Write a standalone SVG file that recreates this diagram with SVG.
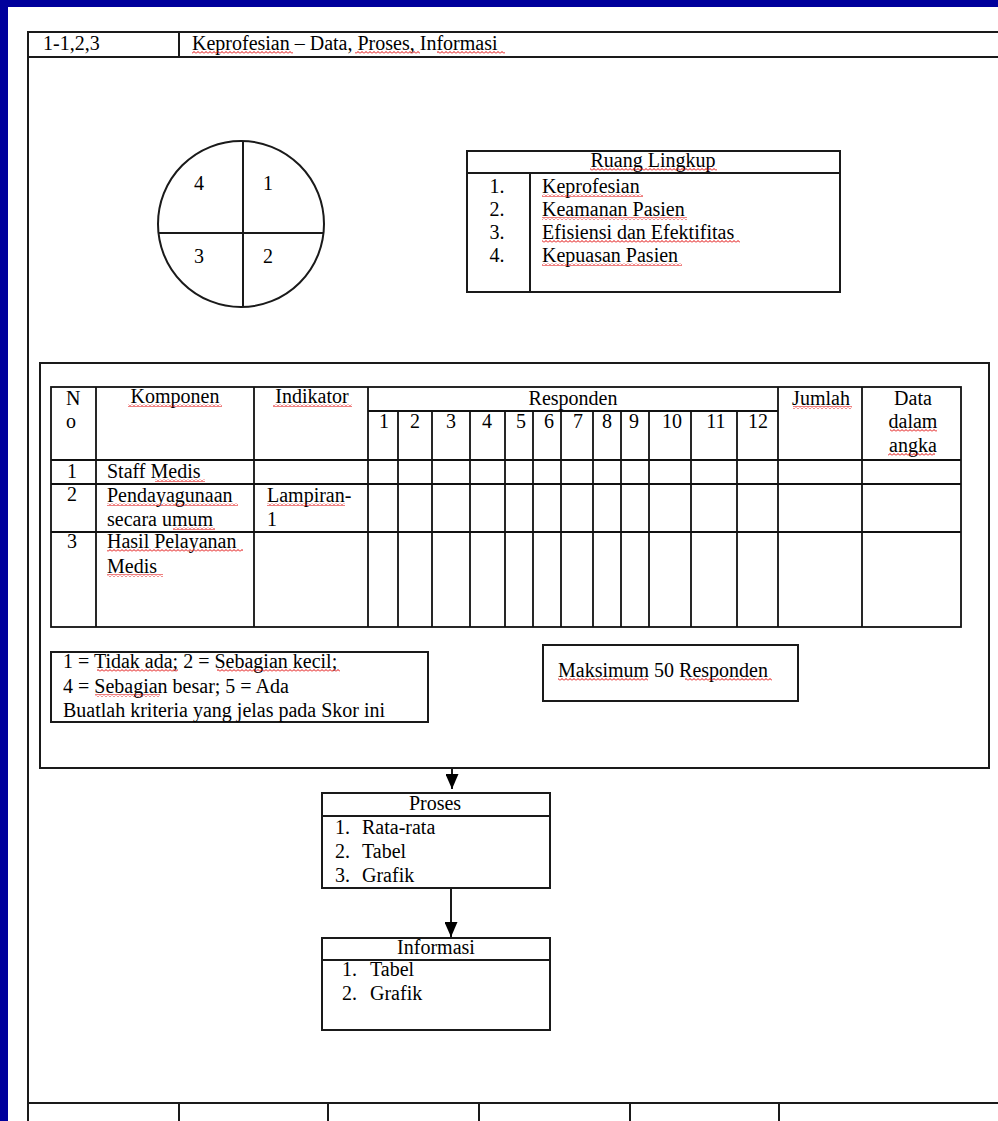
<svg xmlns="http://www.w3.org/2000/svg" width="998" height="1121" viewBox="0 0 998 1121">
<style>
.ln{stroke:#1a1a1a;stroke-width:2;fill:none}
.tl{stroke:#111;stroke-width:1.8;fill:none}
.t{font-family:"Liberation Serif","Times New Roman",serif;font-size:20px;fill:#000}
.m{text-anchor:middle}
.sq{fill:url(#sq)}
</style>
<defs>
<pattern id="sq" width="4" height="3" patternUnits="userSpaceOnUse">
<path d="M0,2.5 L2,0.5 L4,2.5" stroke="#e00000" stroke-width="1" fill="none"/>
</pattern>
<marker id="ah" viewBox="0 0 13 15" refX="6.5" refY="15" markerWidth="13" markerHeight="15" markerUnits="userSpaceOnUse" orient="0">
<path d="M0,0 L13,0 L6.5,15 z" fill="#000"/>
</marker>
</defs>
<rect x="0" y="0" width="998" height="1121" fill="#00009c"/>
<rect x="8" y="7" width="990" height="1114" fill="#fff"/>

<g id="frame">
<line class="ln" x1="28" y1="32" x2="998" y2="32"/>
<line class="ln" x1="28" y1="57" x2="998" y2="57"/>
<line class="ln" x1="28" y1="31" x2="28" y2="1121"/>
<line class="ln" x1="179" y1="32" x2="179" y2="57"/>
<line class="ln" x1="28" y1="1103" x2="998" y2="1103"/>
<line class="ln" x1="179" y1="1103" x2="179" y2="1121"/>
<line class="ln" x1="328" y1="1103" x2="328" y2="1121"/>
<line class="ln" x1="479" y1="1103" x2="479" y2="1121"/>
<line class="ln" x1="630" y1="1103" x2="630" y2="1121"/>
<line class="ln" x1="779" y1="1103" x2="779" y2="1121"/>
<text class="t" x="43" y="50">1-1,2,3</text>
<text class="t" x="192" y="50">Keprofesian – Data, Proses, Informasi</text>
<rect class="sq" x="192" y="51" width="101" height="3"/>
<rect class="sq" x="355" y="51" width="65" height="3"/>
<rect class="sq" x="437" y="51" width="68" height="3"/>
</g>

<g id="circle">
<circle class="ln" cx="241" cy="224" r="83"/>
<line class="ln" x1="243" y1="141" x2="243" y2="307"/>
<line class="ln" x1="158" y1="233" x2="324" y2="233"/>
<text class="t m" x="199" y="190">4</text>
<text class="t m" x="268" y="190">1</text>
<text class="t m" x="199" y="263">3</text>
<text class="t m" x="268" y="263">2</text>
</g>

<g id="ruang-lingkup">
<rect class="ln" x="467" y="151" width="373" height="141"/>
<line class="ln" x1="467" y1="173" x2="840" y2="173"/>
<line class="ln" x1="530" y1="173" x2="530" y2="292"/>
<text class="t m" x="653" y="167">Ruang Lingkup</text>
<rect class="sq" x="590" y="168" width="127" height="3"/>
<text class="t m" x="497" y="193">1.</text>
<text class="t m" x="497" y="216">2.</text>
<text class="t m" x="497" y="239">3.</text>
<text class="t m" x="497" y="262">4.</text>
<text class="t" x="542" y="193">Keprofesian</text>
<text class="t" x="542" y="216">Keamanan Pasien</text>
<text class="t" x="542" y="239">Efisiensi dan Efektifitas</text>
<text class="t" x="542" y="262">Kepuasan Pasien</text>
<rect class="sq" x="542" y="194" width="101" height="3"/>
<rect class="sq" x="542" y="217" width="145" height="3"/>
<rect class="sq" x="542" y="240" width="198" height="3"/>
<rect class="sq" x="542" y="263" width="140" height="3"/>
</g>

<g id="data-panel">
<rect class="ln" x="40" y="363" width="949" height="405"/>
</g>

<g id="table">
<rect class="tl" x="51" y="387" width="910" height="240"/>
<path class="tl" d="M96,387V627 M254,387V627 M368,387V627 M778,387V627 M862,387V627"/>
<path class="tl" d="M398,411V627 M432,411V627 M470,411V627 M505,411V627 M533,411V627 M561,411V627 M593,411V627 M621,411V627 M649,411V627 M691,411V627 M737,411V627"/>
<path class="tl" d="M368,411H778 M51,460H961 M51,484H961 M51,532H961"/>
<text class="t" x="66" y="405">N</text>
<text class="t" x="66" y="428">o</text>
<text class="t m" x="175" y="403">Komponen</text>
<rect class="sq" x="128" y="404" width="94" height="3"/>
<text class="t m" x="312" y="403">Indikator</text>
<rect class="sq" x="273" y="404" width="79" height="3"/>
<text class="t m" x="573" y="405">Responden</text>
<text class="t m" x="384" y="428">1</text>
<text class="t m" x="415" y="428">2</text>
<text class="t m" x="451" y="428">3</text>
<text class="t m" x="487" y="428">4</text>
<text class="t m" x="521" y="428">5</text>
<text class="t m" x="549" y="428">6</text>
<text class="t m" x="578" y="428">7</text>
<text class="t m" x="607" y="428">8</text>
<text class="t m" x="634" y="428">9</text>
<text class="t m" x="672" y="428">10</text>
<text class="t m" x="716" y="428">11</text>
<text class="t m" x="758" y="428">12</text>
<text class="t m" x="821" y="405">Jumlah</text>
<rect class="sq" x="793" y="406" width="59" height="3"/>
<text class="t m" x="913" y="405">Data</text>
<text class="t m" x="913" y="428">dalam</text>
<text class="t m" x="913" y="452">angka</text>
<rect class="sq" x="890" y="429" width="47" height="3"/>
<rect class="sq" x="888" y="453" width="47" height="3"/>
<text class="t m" x="72" y="478">1</text>
<text class="t" x="107" y="478">Staff Medis</text>
<rect class="sq" x="155" y="479" width="50" height="3"/>
<text class="t m" x="72" y="501">2</text>
<text class="t" x="107" y="502">Pendayagunaan</text>
<text class="t" x="107" y="526">secara umum</text>
<rect class="sq" x="107" y="503" width="131" height="3"/>
<rect class="sq" x="173" y="527" width="42" height="3"/>
<text class="t" x="267" y="502">Lampiran-</text>
<text class="t" x="267" y="526">1</text>
<rect class="sq" x="267" y="503" width="78" height="3"/>
<text class="t m" x="72" y="548">3</text>
<text class="t" x="107" y="548">Hasil Pelayanan</text>
<text class="t" x="107" y="573">Medis</text>
<rect class="sq" x="107" y="549" width="136" height="3"/>
<rect class="sq" x="107" y="574" width="56" height="3"/>
</g>

<g id="legend">
<rect class="ln" x="51" y="652" width="377" height="70"/>
<text class="t" x="63" y="668">1 = Tidak ada; 2 = Sebagian kecil;</text>
<text class="t" x="63" y="693">4 = Sebagian besar; 5 = Ada</text>
<text class="t" x="63" y="717">Buatlah kriteria yang jelas pada Skor ini</text>
<rect class="sq" x="97" y="669" width="81" height="3"/>
<rect class="sq" x="217" y="669" width="123" height="3"/>
<rect class="sq" x="95" y="694" width="65" height="3"/>
</g>

<g id="maksimum">
<rect class="ln" x="543" y="645" width="255" height="56"/>
<text class="t" x="558" y="677">Maksimum 50 Responden</text>
<rect class="sq" x="558" y="678" width="90" height="3"/>
<rect class="sq" x="685" y="678" width="87" height="3"/>
</g>

<g id="connectors">
<line class="ln" x1="452" y1="768" x2="452" y2="789" marker-end="url(#ah)"/>
<line class="ln" x1="451" y1="888" x2="451" y2="937" marker-end="url(#ah)"/>
</g>

<g id="proses">
<rect class="ln" x="322" y="793" width="228" height="95"/>
<line class="ln" x1="322" y1="816" x2="550" y2="816"/>
<text class="t m" x="435" y="810">Proses</text>
<text class="t" x="335" y="834">1.</text>
<text class="t" x="362" y="834">Rata-rata</text>
<text class="t" x="335" y="858">2.</text>
<text class="t" x="362" y="858">Tabel</text>
<text class="t" x="335" y="882">3.</text>
<text class="t" x="362" y="882">Grafik</text>
</g>

<g id="informasi">
<rect class="ln" x="322" y="938" width="228" height="92"/>
<line class="ln" x1="322" y1="960" x2="550" y2="960"/>
<text class="t m" x="436" y="954">Informasi</text>
<text class="t" x="342" y="976">1.</text>
<text class="t" x="370" y="976">Tabel</text>
<text class="t" x="342" y="1000">2.</text>
<text class="t" x="370" y="1000">Grafik</text>
</g>
</svg>
